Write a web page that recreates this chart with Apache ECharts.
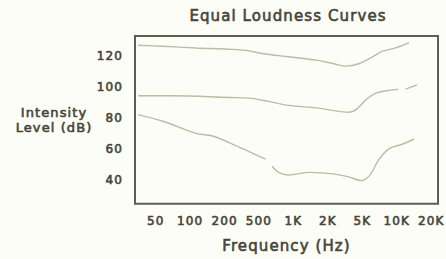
<!DOCTYPE html>
<html>
<head>
<meta charset="utf-8">
<script src="https://cdn.jsdelivr.net/npm/echarts@6/dist/echarts.min.js"></script>
<style>
html,body{margin:0;padding:0;background:#fdfdf8;}
#c{width:446px;height:259px;}
#c svg text{letter-spacing:1.1px;}
</style>
</head>
<body>
<div id="c"></div>
<script>
// Frequency tick labels (evenly spaced along x)
const freqLabels = ['50','100','200','500','1K','2K','5K','10K','20K'];
// dB tick labels
const dbTicks = [40, 60, 80, 100, 120];
// Curves: [position along frequency labels (0 = "50", 8 = "20K"), level dB]
const topCurve = [[-0.51,127.0],[0.21,126.4],[1.17,125.3],[2.13,124.5],[2.61,123.8],[3.09,121.7],[3.86,119.6],[4.67,117.5],[5.15,115.3],[5.53,113.6],[5.92,115.3],[6.30,119.6],[6.59,123.2],[6.97,125.3],[7.36,128.7]];
const middleCurveA = [[-0.51,94.5],[0.50,94.5],[2.13,93.4],[2.71,93.0],[3.28,90.9],[3.86,88.3],[4.67,86.7],[5.63,83.9],[5.82,85.6],[6.11,92.0],[6.40,96.2],[6.88,98.3],[7.05,98.6]];
const middleCurveB = [[7.26,98.8],[7.59,101.5]];
const bottomCurveA = [[-0.51,82.4],[0.21,78.1],[1.17,70.3],[1.65,68.6],[2.13,64.4],[2.61,59.6],[3.19,53.7]];
const bottomCurveB = [[3.38,49.1],[3.57,45.2],[3.86,43.5],[4.48,45.2],[5.15,44.2],[5.63,42.1],[5.96,39.9],[6.21,43.1],[6.49,53.7],[6.78,60.5],[7.16,63.3],[7.50,66.5]];

const curveColor = '#bcbca0';
const textColor = '#45453a';
const FONT = 'DejaVu Sans';
const thick = {textBorderColor:textColor, textBorderWidth:0.6};

function toSeries(arr){
  return {
    type:'line', smooth:0.35, symbol:'none', silent:true,
    lineStyle:{color:curveColor, width:1.4},
    data: arr.map(p => [p[0]*10, p[1]])
  };
}

const chart = echarts.init(document.getElementById('c'), null, {renderer:'svg'});
chart.setOption({
  backgroundColor:'#fdfdf8',
  animation:false,
  title:{
    text:'Equal Loudness Curves', left:283, top:3, textAlign:'center',
    textStyle:Object.assign({fontFamily:FONT, fontSize:15, fontWeight:'normal', color:textColor}, thick)
  },
  grid:{left:135, top:36, width:306, height:169, show:true, borderColor:'#5e5e4c', borderWidth:2, backgroundColor:'#fdfdf8'},
  xAxis:{
    type:'value', min:-6, max:82, interval:2,
    axisLine:{show:false}, axisTick:{show:false}, splitLine:{show:false},
    axisLabel:Object.assign({
      margin:11, color:textColor, fontFamily:FONT, fontSize:12,
      formatter:function(v){
        const r = Math.round(v);
        if (r % 10 === 0 && r >= 0 && r/10 < freqLabels.length) return freqLabels[r/10];
        return '';
      }
    }, thick),
    name:'Frequency (Hz)', nameLocation:'middle', nameGap:35,
    nameTextStyle:Object.assign({fontFamily:FONT, fontSize:15, color:textColor}, thick)
  },
  yAxis:{
    type:'value', min:25, max:133, interval:1,
    axisLine:{show:false}, axisTick:{show:false}, splitLine:{show:false},
    axisLabel:Object.assign({
      margin:12, color:textColor, fontFamily:FONT, fontSize:12,
      formatter:function(v){ return dbTicks.indexOf(Math.round(v)) >= 0 ? String(Math.round(v)) : ''; }
    }, thick),
    name:'Intensity\nLevel (dB)', nameLocation:'middle', nameGap:81, nameRotate:0,
    nameTextStyle:Object.assign({fontFamily:FONT, fontSize:13, color:textColor, align:'center', lineHeight:15}, thick)
  },
  series:[toSeries(topCurve), toSeries(middleCurveA), toSeries(middleCurveB), toSeries(bottomCurveA), toSeries(bottomCurveB)]
});
</script>
</body>
</html>
